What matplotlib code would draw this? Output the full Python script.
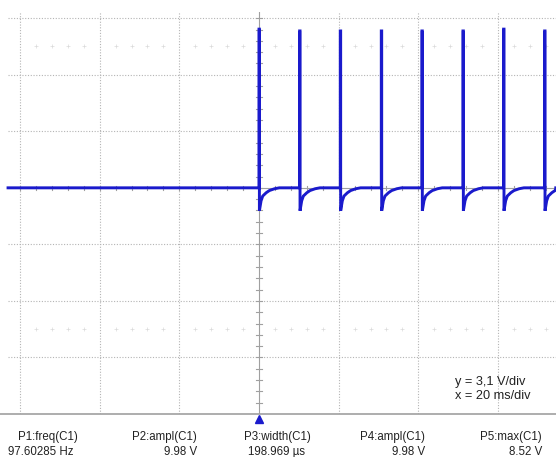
import matplotlib.pyplot as plt
import numpy as np

# scope settings
volts_per_div = 3.1
ms_per_div = 20

# pulse times (ms from trigger) and peak levels (V)
pulse_t = [0.0, 10.2, 20.4, 30.7, 40.9, 51.2, 61.4, 71.7]
pulse_peak = [8.7, 8.6, 8.6, 8.6, 8.6, 8.6, 8.7, 8.6]

# undershoot after each pulse: time after pulse (ms) and level (V)
rec_t = [0.0, 0.42, 0.84, 1.7, 2.5, 3.8, 5.0]
rec_v = [-1.26, -0.71, -0.45, -0.27, -0.15, -0.05, 0.0]

trace_start = -63.0
trace_end = 74.5

labels = ["P1:freq(C1)", "P2:ampl(C1)", "P3:width(C1)", "P4:ampl(C1)", "P5:max(C1)"]
values = ["97.60285 Hz", "9.98 V", "198.969 \u00b5s", "9.98 V", "8.52 V"]

# build the trace from the read values
t = [trace_start]
v = [0.0]
for tp, pk in zip(pulse_t, pulse_peak):
    t += [tp, tp, tp + 0.1]
    v += [0.0, pk, pk]
    for dt, dv in zip(rec_t, rec_v):
        t.append(tp + 0.1 + dt)
        v.append(dv)
t.append(trace_end)
v.append(0.0)

fig = plt.figure(figsize=(5.56, 4.57), dpi=100)
H = 457.0
ax = fig.add_axes([0, (H - 414) / H, 1, (414 - 12) / H])

x_lo = -259 / 79.67 * ms_per_div
x_hi = (556 - 259) / 79.67 * ms_per_div
y_lo = -4 * volts_per_div
y_hi = (188 - 12) / 56.6 * volts_per_div
ax.set_xlim(x_lo, x_hi)
ax.set_ylim(y_lo, y_hi)

gcol = '#b4b4b4'
# dotted grid
for k in [-3, -2, -1, 1, 2, 3]:
    ax.plot([trace_start, x_hi], [k * volts_per_div] * 2, ls=(0, (1, 1.5)), color=gcol, lw=0.8)
for k in [-3, -2, -1, 1, 2, 3]:
    ax.plot([k * ms_per_div] * 2, [y_lo, y_hi], ls=(0, (1, 1.5)), color=gcol, lw=0.8)

# center axes with ticks
ax.plot([0, 0], [y_lo, y_hi], color='#a0a0a0', lw=0.8)
ax.plot([trace_start, x_hi], [0, 0], color='#a0a0a0', lw=0.8)
for yy in np.arange(-20, 16) * volts_per_div / 5:
    if y_lo < yy < y_hi:
        ax.plot([-0.75, 0.75], [yy, yy], color='#a0a0a0', lw=0.8)
for xx in np.arange(-16, 19) * ms_per_div / 5:
    if trace_start < xx < x_hi:
        ax.plot([xx, xx], [-0.1, 0.1], color='#a0a0a0', lw=0.8)

# faint sub-division marks
sub = [xx for xx in np.arange(-15, 19) * ms_per_div / 5 if round(xx) % 20 != 0]
for lvl in [2.5 * volts_per_div, -2.5 * volts_per_div]:
    ax.plot(sub, [lvl] * len(sub), ls='none', marker='+', ms=3, mew=0.5, color='#dadada')

# signal
ax.plot(t, v, color='#1a1acc', lw=2.1, solid_joinstyle='miter')

for s in ['top', 'left', 'right']:
    ax.spines[s].set_visible(False)
ax.spines['bottom'].set_color('#a0a0a0')
ax.spines['bottom'].set_linewidth(1.2)
ax.set_xticks([])
ax.set_yticks([])

# trigger marker
ax.plot([0], [-(419 - 188) / 56.6 * volts_per_div], marker='^', ms=6, color='#1a1acc', clip_on=False)

tc = '#222222'
fs = 8.3
fig.text(455 / 556, 1 - 382 / H, "y = 3,1 V/div", fontsize=9.2, color=tc,
         ha='left', va='center', family='Liberation Sans')
fig.text(455 / 556, 1 - 396 / H, "x = 20 ms/div", fontsize=9.2, color=tc,
         ha='left', va='center', family='Liberation Sans')

lab_x = [78, 197, 277, 425, 542]
val_x = [74, 197, 277, 425, 542]
for i in range(5):
    ha = 'center' if i == 2 else 'right'
    fig.text(lab_x[i] / 556, 1 - 437 / H, labels[i], fontsize=fs, color=tc, ha=ha, va='center',
             family='Liberation Sans')
    fig.text(val_x[i] / 556, 1 - 452 / H, values[i], fontsize=fs, color=tc, ha=ha, va='center',
             family='Liberation Sans')

fig.savefig('out.png', dpi=100, facecolor='white')
